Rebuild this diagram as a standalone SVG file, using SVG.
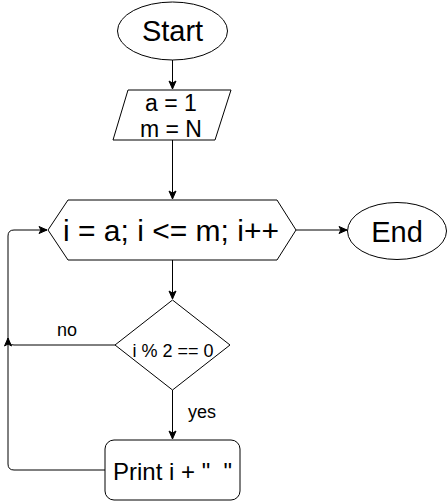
<svg xmlns="http://www.w3.org/2000/svg" width="448" height="501" viewBox="0 0 448 501">
<style>
.s{fill:#fff;stroke:#000;stroke-width:1}
.t{font-family:"Liberation Sans",Arial,sans-serif;fill:#000;text-anchor:middle}
.e{fill:none;stroke:#000;stroke-width:1}
</style>
<defs>
<marker id="a" markerUnits="userSpaceOnUse" markerWidth="10" markerHeight="10" viewBox="0 0 10 10" refX="9" refY="5" orient="auto">
<path d="M1,1.5 L9,5 L1,8.5 L3,5 Z" fill="#000" stroke="#000" stroke-width="1"/>
</marker>
</defs>
<rect width="448" height="501" fill="#fff"/>
<g id="connectors">
<path class="e" d="M172.5,60 V89" marker-end="url(#a)"/>
<path class="e" d="M172.5,140 V199" marker-end="url(#a)"/>
<path class="e" d="M296,230 H347" marker-end="url(#a)"/>
<path class="e" d="M172.5,260 V299" marker-end="url(#a)"/>
<path class="e" d="M172.5,390 V439" marker-end="url(#a)"/>
<path class="e" d="M115,345 H14 Q8,345 8,339 V236 Q8,230 14,230 H47" marker-end="url(#a)"/>
<path class="e" d="M105,470 H14 Q8,470 8,464 V338" marker-end="url(#a)"/>
<text class="t" x="67" y="336" font-size="18">no</text>
<text class="t" x="202" y="418" font-size="18">yes</text>
</g>
<g id="start">
<ellipse class="s" cx="172.5" cy="31" rx="55" ry="29"/>
<text class="t" x="172.5" y="41" font-size="29">Start</text>
</g>
<g id="input">
<polygon class="s" points="128,90 231,90 215,140 113,140"/>
<text class="t" x="171" y="111" font-size="23">a = 1</text>
<text class="t" x="171" y="137" font-size="23">m = N</text>
</g>
<g id="loop">
<polygon class="s" points="48,230 68,200 277,200 296,230 277,260 68,260"/>
<text class="t" x="171" y="241" font-size="30">i = a; i &lt;= m; i++</text>
</g>
<g id="end">
<ellipse class="s" cx="397" cy="231" rx="49.5" ry="28.5"/>
<text class="t" x="397" y="242" font-size="29">End</text>
</g>
<g id="cond">
<polygon class="s" points="172.5,300 230,345 172.5,390 115,345"/>
<text class="t" x="173" y="357" font-size="18">i % 2 == 0</text>
</g>
<g id="print">
<rect class="s" x="105" y="440" width="135" height="60" rx="9"/>
<text class="t" x="172.5" y="480" font-size="24" xml:space="preserve">Print i + "  "</text>
</g>
</svg>
